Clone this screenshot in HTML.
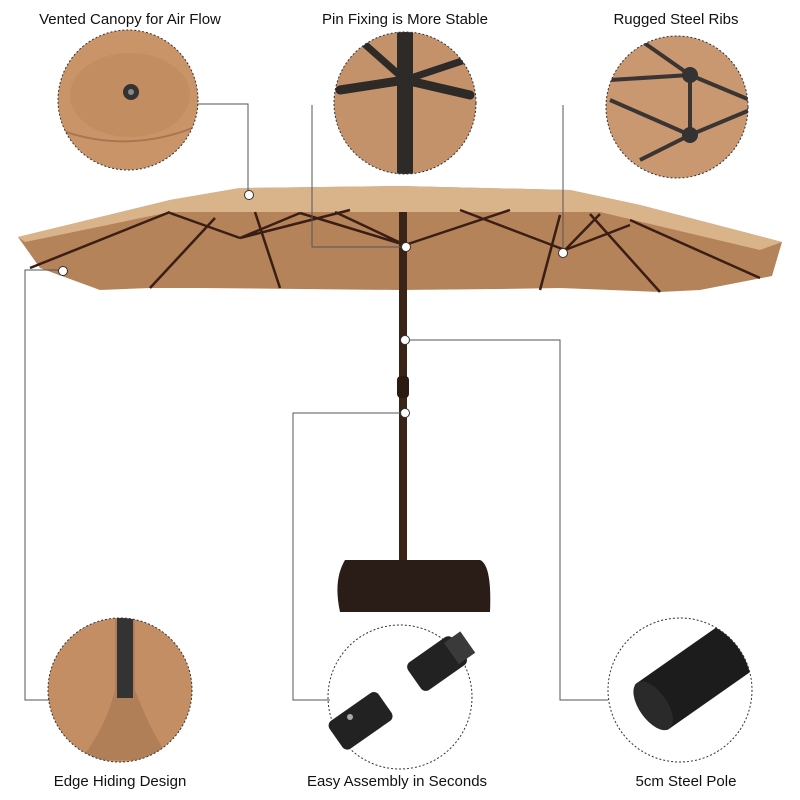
<!DOCTYPE html>
<html><head><style>
body{margin:0;background:#fff;}
svg{display:block}
text{font-family:"Liberation Sans",sans-serif;font-size:15px;fill:#111}
</style></head><body>
<svg width="800" height="800" viewBox="0 0 800 800">
<rect width="800" height="800" fill="#fff"/>
<text x="130" y="24" text-anchor="middle">Vented Canopy for Air Flow</text>
<text x="405" y="24" text-anchor="middle">Pin Fixing is More Stable</text>
<text x="676" y="24" text-anchor="middle">Rugged Steel Ribs</text>
<text x="120" y="786" text-anchor="middle">Edge Hiding Design</text>
<text x="397" y="786" text-anchor="middle">Easy Assembly in Seconds</text>
<text x="686" y="786" text-anchor="middle">5cm Steel Pole</text>

<defs>
<clipPath id="c1"><circle cx="128" cy="100" r="70"/></clipPath>
<clipPath id="c2"><circle cx="405" cy="103" r="71"/></clipPath>
<clipPath id="c3"><circle cx="677" cy="107" r="71"/></clipPath>
<clipPath id="c4"><circle cx="120" cy="690" r="72"/></clipPath>
<clipPath id="c6"><circle cx="680" cy="690" r="72"/></clipPath>
</defs>
<!-- top circles -->
<circle cx="128" cy="100" r="70" fill="#c99568"/>
<g clip-path="url(#c1)"><ellipse cx="130" cy="95" rx="60" ry="42" fill="#c28d60"/><path d="M60 130 Q130 155 200 125" stroke="#a87650" fill="none" stroke-width="2"/></g>
<circle cx="131" cy="92" r="8" fill="#333"/><circle cx="131" cy="92" r="3" fill="#888"/>
<circle cx="128" cy="100" r="70" fill="none" stroke="#333" stroke-dasharray="2 2"/>

<circle cx="405" cy="103" r="71" fill="#c3916a"/>
<g clip-path="url(#c2)" stroke="#2e2a28" stroke-linecap="round">
<rect x="397" y="30" width="16" height="150" fill="#2e2a28" stroke="none"/>
<line x1="405" y1="80" x2="340" y2="90" stroke-width="9"/>
<line x1="405" y1="80" x2="470" y2="95" stroke-width="9"/>
<line x1="405" y1="80" x2="360" y2="40" stroke-width="7"/>
<line x1="405" y1="80" x2="465" y2="60" stroke-width="7"/>
</g>
<circle cx="405" cy="103" r="71" fill="none" stroke="#333" stroke-dasharray="2 2"/>

<circle cx="677" cy="107" r="71" fill="#c99870"/>
<g clip-path="url(#c3)" stroke="#3a3533" stroke-width="4">
<line x1="690" y1="75" x2="610" y2="80"/><line x1="690" y1="75" x2="640" y2="40"/>
<line x1="690" y1="75" x2="750" y2="100"/><line x1="690" y1="135" x2="610" y2="100"/>
<line x1="690" y1="135" x2="750" y2="110"/><line x1="690" y1="135" x2="640" y2="160"/>
<line x1="690" y1="75" x2="690" y2="135"/>
</g>
<circle cx="690" cy="75" r="8" fill="#333"/><circle cx="690" cy="135" r="8" fill="#333"/>
<circle cx="677" cy="107" r="71" fill="none" stroke="#333" stroke-dasharray="2 2"/>

<!-- bottom circles -->
<circle cx="120" cy="690" r="72" fill="#c38e63"/>
<g clip-path="url(#c4)"><path d="M115 618 L135 618 L135 690 Q150 730 170 760 L80 760 Q105 730 115 690Z" fill="#b07f58"/><rect x="117" y="618" width="16" height="80" fill="#333"/></g>
<circle cx="120" cy="690" r="72" fill="none" stroke="#333" stroke-dasharray="2 2"/>

<circle cx="400" cy="697" r="72" fill="#fff" stroke="#333" stroke-dasharray="2 2"/>
<g transform="rotate(-35 435 665)"><rect x="410" y="648" width="55" height="34" rx="6" fill="#222"/><rect x="455" y="652" width="20" height="26" fill="#3a3a3a"/></g>
<g transform="rotate(-35 360 720)"><rect x="330" y="704" width="60" height="34" rx="6" fill="#222"/></g>
<circle cx="350" cy="717" r="3" fill="#aaa"/>

<circle cx="680" cy="690" r="72" fill="#fff"/>
<g clip-path="url(#c6)"><g transform="rotate(-35 690 680)"><rect x="640" y="652" width="130" height="56" rx="4" fill="#1c1c1c"/><ellipse cx="645" cy="680" rx="14" ry="28" fill="#2a2a2a"/></g></g>
<circle cx="680" cy="690" r="72" fill="none" stroke="#333" stroke-dasharray="2 2"/>

<!-- canopy -->
<path d="M18 237 L170 200 L240 188 L400 186 L570 190 L640 205 L782 242 L772 276 L700 290 L660 292 L560 288 L500 289 L400 290 L300 289 L200 288 L150 288 L100 290 L40 268 Z" fill="#b5835a"/>
<path d="M18 237 L170 200 L240 188 L400 186 L570 190 L640 205 L782 242 L760 250 L600 212 L170 212 L25 242Z" fill="#d9b48a"/>
<g stroke="#3a1e14" stroke-width="2.5" fill="none">
<path d="M30 268 L170 212"/><path d="M150 288 L215 218"/><path d="M240 238 L170 213 M240 238 L300 213 M240 238 L350 210"/>
<path d="M280 288 L255 212"/><path d="M405 245 L300 213 M405 245 L510 210 M405 245 L335 212"/>
<path d="M565 250 L460 210 M565 250 L630 225 M565 250 L600 214"/><path d="M540 290 L560 215"/><path d="M660 292 L590 214"/><path d="M760 278 L630 220"/>
</g>
<!-- pole -->
<rect x="399" y="212" width="8" height="360" fill="#3a2418"/>
<rect x="397" y="376" width="12" height="22" rx="4" fill="#2a1a12"/>
<path d="M345 560 L480 560 Q492 565 490 612 L340 612 Q333 580 345 560Z" fill="#2a1c16"/>

<!-- connectors -->
<g stroke="#555" stroke-width="1" fill="none">
<path d="M198 104 H248 V195"/>
<path d="M312 105 V247 H405"/>
<path d="M563 105 V252"/>
<path d="M62 270 H25 V700 H50"/>
<path d="M405 340 H560 V700 H608"/>
<path d="M405 413 H293 V700 H330"/>
</g>
<g fill="#fff" stroke="#333">
<circle cx="249" cy="195" r="4.5"/><circle cx="406" cy="247" r="4.5"/><circle cx="563" cy="253" r="4.5"/>
<circle cx="63" cy="271" r="4.5"/><circle cx="405" cy="340" r="4.5"/><circle cx="405" cy="413" r="4.5"/>
</g>
</svg>
</body></html>
